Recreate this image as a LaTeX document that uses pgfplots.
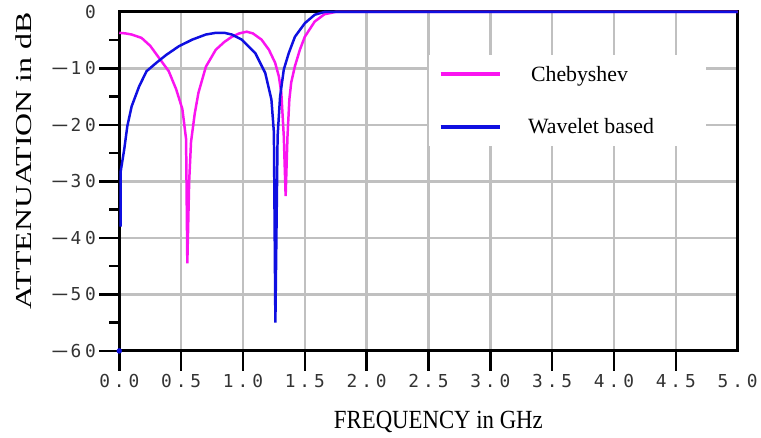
\documentclass[border=0pt]{standalone}
\usepackage{fontspec}
\setmainfont{Liberation Serif}
\newfontfamily\tickfont[LetterSpace=22]{DejaVu Sans Mono}
\usepackage{pgfplots}
\pgfplotsset{compat=1.18}

\definecolor{cheb}{RGB}{250,20,240}
\definecolor{wav}{RGB}{15,15,225}
\definecolor{gridgray}{RGB}{192,192,192}
\newcommand\mn{\scalebox{1.6}[1]{−}\hspace{2bp}}

\begin{document}
\begin{tikzpicture}
\begin{axis}[
    scale only axis,
    width=622bp, height=341bp,
    xmin=0, xmax=5,
    ymin=-60, ymax=0,
    xtick={0,0.5,1,1.5,2,2.5,3,3.5,4,4.5,5},
    xticklabels={0.0,0.5,1.0,1.5,2.0,2.5,3.0,3.5,4.0,4.5,5.0},
    ytick={-60,-50,-40,-30,-20,-10,0},
    yticklabels={\mn60,\mn50,\mn40,\mn30,\mn20,\mn10,0},
    xtick pos=left, ytick pos=left,
    tick align=outside,
    major tick length=20bp,
    tick style={draw=none},
    grid=major,
    major grid style={gridgray, line width=2.5bp},
    axis line style={black, line width=3bp},
    ticklabel style={font=\tickfont\fontsize{18}{18}\selectfont, text=black!80},
    xlabel={\scalebox{1}[1.15]{FREQUENCY in GHz}},
    ylabel={\scalebox{1.4}[1]{ATTENUATION in dB}},
    label style={font=\fontsize{23}{23}\selectfont},
    xlabel style={at={(axis description cs:0.516,0)}, anchor=north, yshift=-60bp, inner sep=0pt},
    ylabel style={at={(axis description cs:0,0.56)}, anchor=center, rotate=0, yshift=96bp, inner sep=0pt},
    clip=false,
    legend style={at={(axis cs:2.5,-7.6)}, anchor=north west, draw=none, fill=white,
        inner xsep=10bp, inner ysep=10bp,
        font=\fontsize{22}{22}\selectfont,
        row sep=34bp, column sep=0bp,
        nodes={inner sep=1bp}},
    legend cell align=left,
    legend image code/.code={\draw[#1, line width=4bp] (0bp,0bp) -- (60bp,0bp);},
]
% tick marks, drawn outside the box
\pgfplotsinvokeforeach{0,0.5,1,1.5,2,2.5,3,3.5,4,4.5}{
  \draw[black, line width=2.5bp] (axis cs:#1,-60) -- ([yshift=-20bp]axis cs:#1,-60);
}
\pgfplotsinvokeforeach{-60,-50,-40,-30,-20,-10}{
  \draw[black, line width=2.5bp] (axis cs:0,#1) -- ([xshift=-20bp]axis cs:0,#1);
}
\pgfplotsinvokeforeach{-55,-45,-35,-25,-15,-5}{
  \draw[black, line width=2.5bp] (axis cs:0,#1) -- ([xshift=-10bp]axis cs:0,#1);
}
% Chebyshev
\addplot[cheb, line width=2.5bp] coordinates {
    (0,-3.7) (0.05,-3.8) (0.10,-4.0) (0.18,-4.6) (0.25,-6.0) (0.32,-8.1)
    (0.40,-10.5) (0.46,-13.7) (0.51,-17.2) (0.54,-22.5) (0.55,-44.5)
    (0.565,-30) (0.58,-23) (0.61,-18) (0.64,-14.3) (0.70,-9.7) (0.78,-6.7)
    (0.85,-5.3) (0.91,-4.4) (0.97,-3.8) (1.03,-3.5) (1.08,-3.8) (1.15,-4.9)
    (1.21,-6.7) (1.26,-9.0) (1.29,-11.4) (1.31,-14.3) (1.33,-22) (1.345,-32.6)
    (1.36,-22) (1.375,-15.5) (1.39,-12.5) (1.42,-9.6) (1.46,-6.7) (1.50,-4.4)
    (1.58,-1.7) (1.66,-0.4) (1.75,0) (5.0,0)
};
\addlegendentry{\hspace*{28bp}\makebox[165bp][l]{Chebyshev}}
% Wavelet based
\addplot[wav, line width=2.5bp] coordinates {
    (0.01,-38) (0.01,-28.4) (0.04,-24.3) (0.065,-20.2) (0.10,-16.7) (0.16,-13.2)
    (0.22,-10.5) (0.30,-9.0) (0.38,-7.6) (0.48,-6.1) (0.59,-4.9) (0.70,-4.0)
    (0.78,-3.7) (0.85,-3.7) (0.91,-4.0) (0.99,-4.9) (1.10,-7.3) (1.18,-10.8)
    (1.23,-15.5) (1.25,-21.3) (1.262,-55) (1.28,-22) (1.30,-15) (1.33,-10.2)
    (1.37,-7.3) (1.42,-4.4) (1.50,-2.0) (1.58,-0.5) (1.66,0) (5.0,0)
};
\addlegendentry{\hspace*{25bp}\makebox[168bp][l]{Wavelet based}}
\addplot[only marks, mark=*, wav, mark size=2.5bp, forget plot] coordinates {(0,-60)};
\end{axis}
\path ([shift={(-120bp,-87bp)}]current axis.south west) rectangle ([shift={(19bp,12bp)}]current axis.north east);
\end{tikzpicture}
\end{document}
